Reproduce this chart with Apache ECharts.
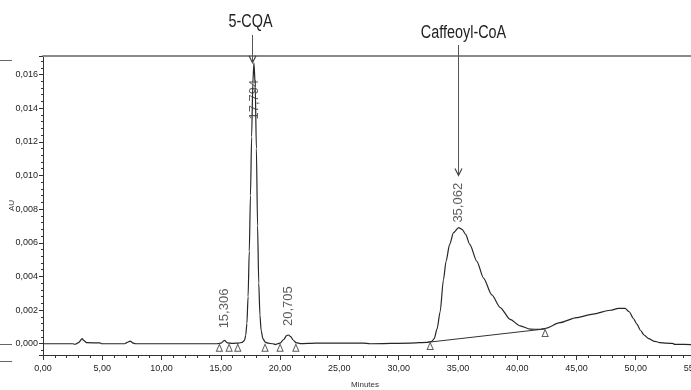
<!DOCTYPE html>
<html><head><meta charset="utf-8">
<script src="https://cdn.jsdelivr.net/npm/echarts@6/dist/echarts.min.js"></script>
<style>html,body{margin:0;padding:0;background:#fff;overflow:hidden}#c{width:691px;height:390px}</style>
</head><body><div id="c"></div>
<script>
// ---- data ----
const traceTimes = [0,2.5,2.7,3.0,3.3,3.45,3.7,4.8,4.95,6.9,7.1,7.35,7.6,7.8,14.6,15.0,15.306,15.55,16.0,16.5,16.8,17.0,17.1,17.2,17.3,17.4,17.5,17.6,17.7,17.794,17.9,18.0,18.1,18.2,18.3,18.4,18.55,18.75,19.0,19.4,19.6,19.8,20.0,20.3,20.55,20.705,20.9,21.1,21.35,21.7,23.0,25.0,27.0,27.6,31.0,32.4,32.8,33.0,33.25,33.5,33.78,34.0,34.3,34.63,35.062,35.35,35.65,36.0,36.6,37.16,37.86,38.57,39.4,40.25,41.1,41.9,42.4,43.6,45.0,46.4,47.85,48.55,49.1,49.45,49.8,50.1,50.4,50.7,51.1,51.5,52.0,52.6,53.1,53.3,55.0];
const traceValues = [0,0,-0.00003,0.00006,0.0003,0.00018,0.00006,0.00005,0,0,0.00008,0.00016,0.00004,0,0,0.00003,0.0002,0.00005,0.00002,0.00004,0.00008,0.0002,0.0005,0.0012,0.0028,0.0055,0.0088,0.0123,0.0155,0.0167,0.0154,0.0116,0.0070,0.0036,0.0017,0.0008,0.0003,0.0001,0.00003,0,-0.00005,0,0.00004,0.00025,0.00048,0.00052,0.00042,0.00022,0.00006,0.00001,0.00004,0.00003,0.00004,0,0.00004,0.00008,0.00014,0.0003,0.0009,0.0019,0.0038,0.0049,0.0059,0.0066,0.0069,0.0068,0.0065,0.0059,0.0049,0.0039,0.0029,0.00215,0.00145,0.00106,0.00087,0.00085,0.00092,0.00125,0.00155,0.00176,0.00199,0.0021,0.0021,0.0019,0.0015,0.00116,0.0008,0.00052,0.0003,0.00016,0.00007,0.00003,0.00002,-0.00004,-0.00005];

const peakTimes = [15.306, 17.794, 20.705, 35.062];
const peakValues = [0.0002, 0.0167, 0.00052, 0.0069];
const peakLabels = ['15,306', '17,794', '20,705', '35,062'];

const boundaryTimes = [14.88, 15.7, 16.43, 18.73, 20.0, 21.33, 32.66, 42.36];
const boundaryValues = [0, 0, 0, 0, 0, 0, 0.0001, 0.00088];

const baselineTimes = [32.66, 42.36];
const baselineValues = [0.0001, 0.00088];

const annotationNames = ['5-CQA', 'Caffeoyl-CoA'];
const annotationTimes = [17.6, 35.02];
const annotationTipValues = [0.0167, 0.0100];

const xMin = 0, xMax = 55, xInterval = 5;
const yMin = -0.00067, yMax = 0.0171;

// ---- chart ----
const FONT = "'Liberation Sans',Arial,sans-serif";
const chart = echarts.init(document.getElementById('c'), null, {renderer: 'canvas'});
const comma = (v, d) => v.toFixed(d).replace('.', ',');

// label placement per peak: [position, distance, align]
const labelPlace = [['top', 12, 'left'], ['bottom', 17, 'right'], ['top', 9, 'left'], ['top', 5, 'left']];

const option = {
  animation: false,
  backgroundColor: '#fff',
  grid: {left: 43, right: -4, top: 56, bottom: 35, containLabel: false, outerBoundsMode: 'none'},
  xAxis: [{
    type: 'value', min: xMin, max: xMax, interval: xInterval,
    name: 'Minutes', nameLocation: 'middle', nameGap: 26,
    nameTextStyle: {fontFamily: FONT, fontSize: 8, color: '#333', padding: [0, 8, 0, 0]},
    axisLine: {show: true, onZero: false, lineStyle: {color: '#333', width: 1}},
    axisTick: {show: true, length: 5, lineStyle: {color: '#333'}},
    minorTick: {show: true, splitNumber: 5, length: 3, lineStyle: {color: '#333'}},
    splitLine: {show: false},
    axisLabel: {fontFamily: FONT, fontSize: 9, color: '#222', margin: 9, formatter: v => comma(v, 2)}
  }, {
    type: 'value', position: 'top', min: xMin, max: xMax,
    axisLine: {show: true, onZero: false, lineStyle: {color: '#8a8a8a', width: 2}},
    axisTick: {show: false}, axisLabel: {show: false}, splitLine: {show: false}
  }],
  yAxis: {
    type: 'value', min: yMin, max: yMax, splitNumber: 8,
    name: 'AU', nameLocation: 'middle', nameGap: 27, nameRotate: 90, nameMoveOverlap: false,
    nameTextStyle: {fontFamily: FONT, fontSize: 8, color: '#333'},
    axisLine: {show: true, onZero: false, lineStyle: {color: '#333', width: 1}},
    axisTick: {show: true, length: 4, lineStyle: {color: '#333'}},
    minorTick: {show: true, splitNumber: 5, length: 2, lineStyle: {color: '#333'}},
    splitLine: {show: false},
    axisLabel: {fontFamily: FONT, fontSize: 9, color: '#222', margin: 5, showMinLabel: false, showMaxLabel: false,
      formatter: v => comma(v, 3)}
  },
  series: [{
    type: 'line', name: 'trace', showSymbol: false, smooth: 0.25, smoothMonotone: 'x',
    lineStyle: {color: '#262626', width: 1.2},
    data: traceTimes.map((t, i) => [t, traceValues[i]]), z: 3
  }, {
    type: 'line', name: 'baseline', showSymbol: false,
    lineStyle: {color: '#333', width: 1},
    data: baselineTimes.map((t, i) => [t, baselineValues[i]]), z: 3
  }, {
    type: 'scatter', name: 'bounds', symbol: 'triangle', symbolSize: [6, 7], symbolOffset: [0, 4],
    itemStyle: {color: '#fff', borderColor: '#333', borderWidth: 1},
    data: boundaryTimes.map((t, i) => [t, boundaryValues[i]]), z: 4
  }, {
    type: 'scatter', name: 'peaks', symbolSize: 0.01,
    data: peakTimes.map((t, i) => ({
      value: [t, peakValues[i]], name: peakLabels[i],
      label: {show: true, position: labelPlace[i][0], distance: labelPlace[i][1], align: labelPlace[i][2],
        verticalAlign: 'middle', rotate: 90, formatter: '{b}',
        fontFamily: FONT, fontSize: 13, color: '#333'}
    })), z: 5
  }]
};
chart.setOption(option);

// annotations (arrows + names) placed via the chart's own scales
const graphics = [];
const annTextY = [22, 33], annStartY = [35, 45];
annotationNames.forEach((nm, i) => {
  const tip = chart.convertToPixel({gridIndex: 0}, [annotationTimes[i], annotationTipValues[i]]);
  const x = Math.round(tip[0]) + 0.5, y = tip[1];
  graphics.push({type: 'line', shape: {x1: x, y1: annStartY[i], x2: x, y2: y}, style: {stroke: '#555', lineWidth: 1}, z: 20});
  graphics.push({type: 'polyline', shape: {points: [[x - 3.5, y - 7], [x, y], [x + 3.5, y - 7]]}, style: {stroke: '#444', lineWidth: 1.2, fill: null}, z: 20});
  graphics.push({type: 'text', x: x + (i === 0 ? -2 : 5), y: annTextY[i], scaleX: 0.8,
    style: {text: nm, fontFamily: FONT, fontSize: 18, fill: '#222', align: 'center', verticalAlign: 'middle'}, z: 20});
});
// small decorative marks at the left edge of the original figure
[60, 344, 361].forEach(y => graphics.push({type: 'line', shape: {x1: 0, y1: y + 0.5, x2: 12, y2: y + 0.5}, style: {stroke: '#666', lineWidth: 1}}));
chart.setOption({graphic: graphics});
</script>
</body></html>
